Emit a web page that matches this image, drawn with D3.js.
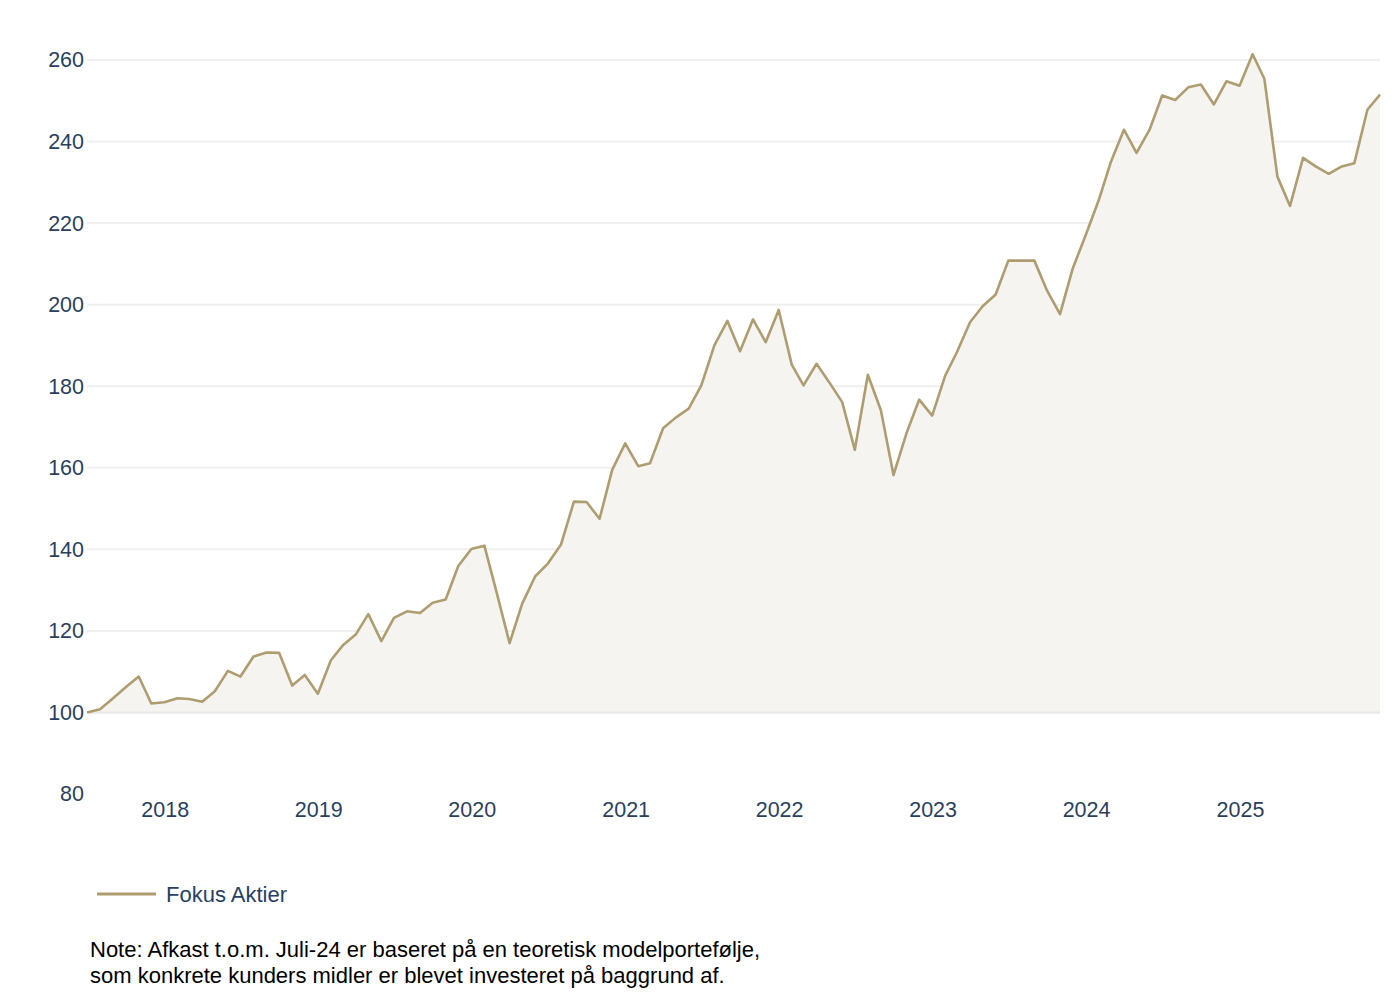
<!DOCTYPE html>
<html>
<head>
<meta charset="utf-8">
<script src="https://cdn.jsdelivr.net/npm/d3@7"></script>
<style>
  body { margin: 0; background: #fff; }
  svg { font-family: "Liberation Sans", Arial, sans-serif; }
</style>
</head>
<body>
<svg width="1400" height="1000"></svg>
<script>
const MONTHS = [
  "2017-06", "2017-07", "2017-08", "2017-09", "2017-10", "2017-11", "2017-12",
  "2018-01", "2018-02", "2018-03", "2018-04", "2018-05", "2018-06",
  "2018-07", "2018-08", "2018-09", "2018-10", "2018-11", "2018-12",
  "2019-01", "2019-02", "2019-03", "2019-04", "2019-05", "2019-06",
  "2019-07", "2019-08", "2019-09", "2019-10", "2019-11", "2019-12",
  "2020-01", "2020-02", "2020-03", "2020-04", "2020-05", "2020-06",
  "2020-07", "2020-08", "2020-09", "2020-10", "2020-11", "2020-12",
  "2021-01", "2021-02", "2021-03", "2021-04", "2021-05", "2021-06",
  "2021-07", "2021-08", "2021-09", "2021-10", "2021-11", "2021-12",
  "2022-01", "2022-02", "2022-03", "2022-04", "2022-05", "2022-06",
  "2022-07", "2022-08", "2022-09", "2022-10", "2022-11", "2022-12",
  "2023-01", "2023-02", "2023-03", "2023-04", "2023-05", "2023-06",
  "2023-07", "2023-08", "2023-09", "2023-10", "2023-11", "2023-12",
  "2024-01", "2024-02", "2024-03", "2024-04", "2024-05", "2024-06",
  "2024-07", "2024-08", "2024-09", "2024-10", "2024-11", "2024-12",
  "2025-01", "2025-02", "2025-03", "2025-04", "2025-05", "2025-06",
  "2025-07", "2025-08", "2025-09", "2025-10", "2025-11",
];

const FOKUS_AKTIER = [
  100, 100.8, 103.5, 106.2, 108.8, 102.2, 102.5,
  103.5, 103.3, 102.6, 105.2, 110.2, 108.8,
  113.7, 114.7, 114.6, 106.6, 109.2, 104.6,
  112.8, 116.4, 119.1, 124.1, 117.5, 123.2,
  124.8, 124.4, 126.9, 127.7, 135.9, 140.1,
  140.9, 129.5, 117, 126.7, 133.4, 136.5,
  141.1, 151.7, 151.6, 147.5, 159.5, 166,
  160.4, 161.1, 169.7, 172.3, 174.5, 180.2,
  190, 196, 188.6, 196.4, 190.8, 198.7,
  185.3, 180.2, 185.5, 181, 176.1, 164.4,
  182.8, 174.1, 158.2, 168.5, 176.7, 172.8,
  182.6, 188.4, 195.7, 199.6, 202.5, 210.8,
  210.8, 210.8, 203.5, 197.7, 208.8, 217,
  225.6, 235, 242.9, 237.2, 242.9, 251.3,
  250.2, 253.3, 254, 249.1, 254.8, 253.7,
  261.4, 255.4, 231.4, 224.2, 236, 233.9,
  232.1, 233.9, 234.7, 247.8, 251.5,
];

const Y_TICKS = [80, 100, 120, 140, 160, 180, 200, 220, 240, 260];
const X_TICKS = ["2018", "2019", "2020", "2021", "2022", "2023", "2024", "2025"];
const SERIES_NAME = "Fokus Aktier";
const NOTE_LINES = [
  "Note: Afkast t.o.m. Juli-24 er baseret på en teoretisk modelportefølje,",
  "som konkrete kunders midler er blevet investeret på baggrund af.",
];

const LINE_COLOR = "#ae9d70";
const FILL_COLOR = "#f6f4f0";
const GRID_COLOR = "#efefef";
const TEXT_COLOR = "#2a3f5f";
const FONT_SIZE = 21.5;

const PLOT = { left: 87, right: 1380, top: 60, bottom: 794 };

// month-end dates
const parseMonth = d3.utcParse("%Y-%m");
const data = MONTHS.map((m, i) => ({
  date: d3.utcDay.offset(d3.utcMonth.offset(parseMonth(m), 1), -1),
  value: FOKUS_AKTIER[i],
}));

const svg = d3.select("svg");

const x = d3
  .scaleUtc()
  .domain(d3.extent(data, (d) => d.date))
  .range([PLOT.left, PLOT.right]);

const y = d3
  .scaleLinear()
  .domain([80, 260])
  .range([PLOT.bottom, PLOT.top]);

// gridlines
svg
  .append("g")
  .selectAll("line")
  .data(Y_TICKS.filter((t) => t > 80))
  .enter()
  .append("line")
  .attr("x1", PLOT.left)
  .attr("x2", PLOT.right)
  .attr("y1", (d) => y(d))
  .attr("y2", (d) => y(d))
  .attr("stroke", GRID_COLOR)
  .attr("stroke-width", 2);

// area down to 100
svg
  .append("path")
  .datum(data)
  .attr("fill", FILL_COLOR)
  .attr("d", d3.area().x((d) => x(d.date)).y0(y(100)).y1((d) => y(d.value)));

svg
  .append("line")
  .attr("x1", PLOT.left)
  .attr("x2", PLOT.right)
  .attr("y1", y(100))
  .attr("y2", y(100))
  .attr("stroke", "#ebe9e5")
  .attr("stroke-width", 2);

svg
  .append("path")
  .datum(data)
  .attr("fill", "none")
  .attr("stroke", LINE_COLOR)
  .attr("stroke-width", 2.6)
  .attr("stroke-linejoin", "round")
  .attr("d", d3.line().x((d) => x(d.date)).y((d) => y(d.value)));

// y axis labels
const yAxis = svg
  .append("g")
  .attr("transform", `translate(${PLOT.left - 3},0)`)
  .call(d3.axisLeft(y).tickValues(Y_TICKS).tickSize(0).tickPadding(0));
yAxis.select(".domain").remove();
yAxis
  .selectAll("text")
  .attr("fill", TEXT_COLOR)
  .attr("font-size", FONT_SIZE)
  .attr("font-family", "Liberation Sans, Arial, sans-serif");

// x axis labels
const xAxis = svg
  .append("g")
  .attr("transform", `translate(0,${PLOT.bottom})`)
  .call(
    d3
      .axisBottom(x)
      .tickValues(X_TICKS.map((t) => d3.utcParse("%Y")(t)))
      .tickFormat(d3.utcFormat("%Y"))
      .tickSize(0)
      .tickPadding(8)
  );
xAxis.select(".domain").remove();
xAxis
  .selectAll("text")
  .attr("fill", TEXT_COLOR)
  .attr("font-size", FONT_SIZE)
  .attr("font-family", "Liberation Sans, Arial, sans-serif");

// legend
const legend = svg.append("g").attr("transform", "translate(97,894)");
legend
  .append("line")
  .attr("x1", 0)
  .attr("x2", 59)
  .attr("stroke", LINE_COLOR)
  .attr("stroke-width", 3);
legend
  .append("text")
  .attr("x", 69)
  .attr("y", 8)
  .attr("fill", TEXT_COLOR)
  .attr("font-size", 22)
  .text(SERIES_NAME);

// note
svg
  .append("g")
  .selectAll("text")
  .data(NOTE_LINES)
  .enter()
  .append("text")
  .attr("x", 90)
  .attr("y", (d, i) => 957 + i * 26)
  .attr("fill", "#000")
  .attr("font-size", 22)
  .text((d) => d);
</script>
</body>
</html>
